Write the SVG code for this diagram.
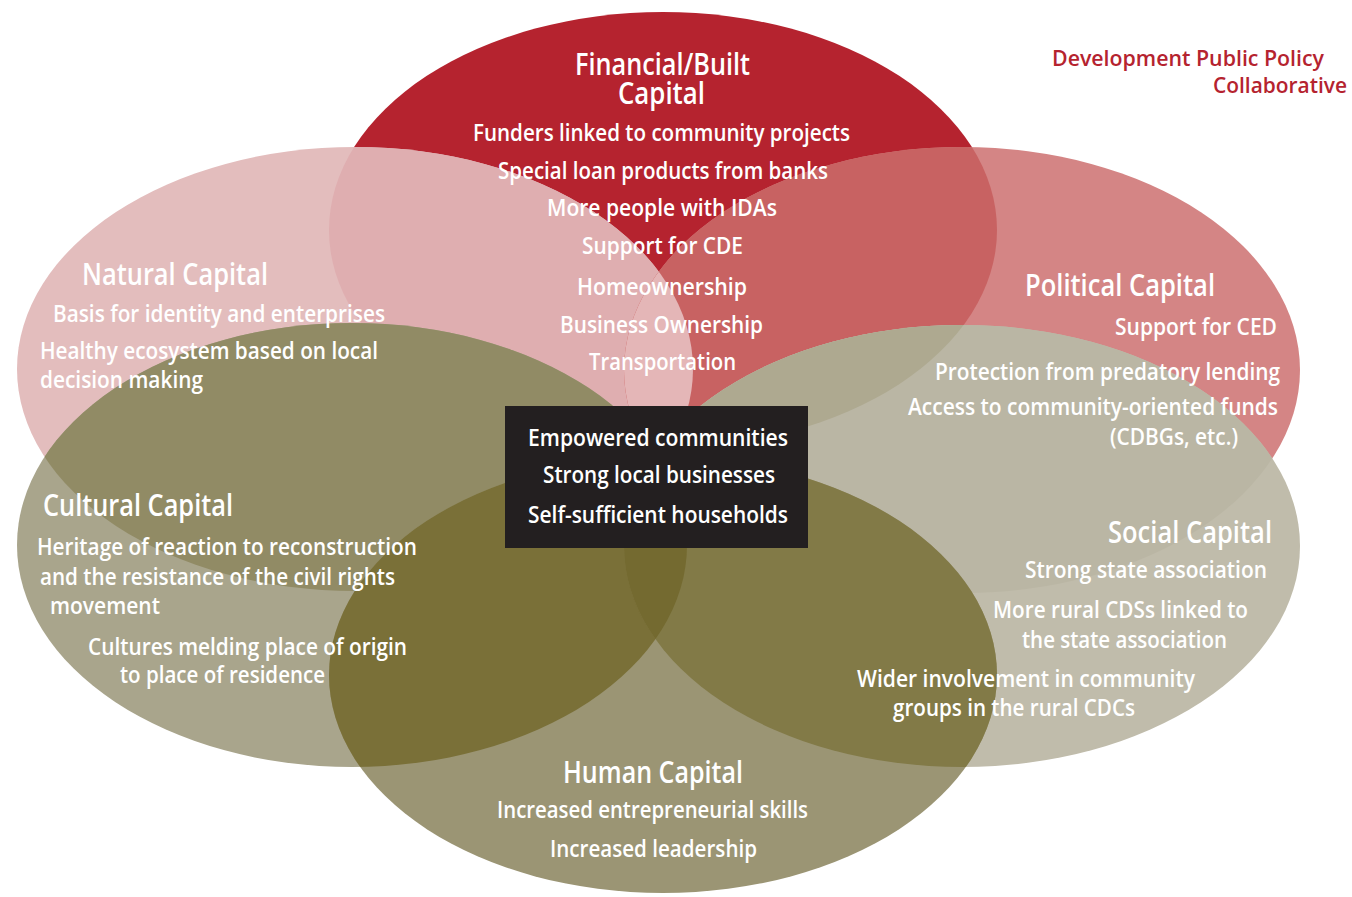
<svg xmlns="http://www.w3.org/2000/svg" xmlns:xlink="http://www.w3.org/1999/xlink" width="1352" height="897" viewBox="0 0 1352 897">
<style>
.t{font-family:"Open Sans","Liberation Sans",sans-serif;fill:#ffffff;font-weight:600;}
.h{font-size:31px;}
.i{font-size:23px;}
.r{fill:#b5232f;font-size:22px;font-family:"Open Sans","Liberation Sans",sans-serif;font-weight:600;}
</style>
<defs>
<ellipse id="eF" cx="663" cy="230" rx="334" ry="218"/>
<ellipse id="eN" cx="355" cy="369" rx="338" ry="222"/>
<ellipse id="eP" cx="962" cy="370" rx="338" ry="223"/>
<ellipse id="eC" cx="352" cy="545" rx="335" ry="222"/>
<ellipse id="eS" cx="962" cy="546" rx="338" ry="221"/>
<ellipse id="eH" cx="663" cy="675" rx="334" ry="218"/>
<clipPath id="cF"><use xlink:href="#eF"/></clipPath>
<clipPath id="cN"><use xlink:href="#eN"/></clipPath>
<clipPath id="cP"><use xlink:href="#eP"/></clipPath>
<clipPath id="cC"><use xlink:href="#eC"/></clipPath>
<clipPath id="cS"><use xlink:href="#eS"/></clipPath>
</defs>
<rect width="1352" height="897" fill="#ffffff"/>
<g id="connectors"></g>
<g id="shapes">
<g id="financial-shape"><use xlink:href="#eF" fill="#b5232f"/></g>
<g id="natural-shape">
<use xlink:href="#eN" fill="#e3bdbd"/>
<g clip-path="url(#cF)"><use xlink:href="#eN" fill="#dfaeb0"/></g>
</g>
<g id="political-shape">
<use xlink:href="#eP" fill="#d48585"/>
<g clip-path="url(#cF)"><use xlink:href="#eP" fill="#c86262"/></g>
<g clip-path="url(#cN)"><use xlink:href="#eP" fill="#e4b6b7"/></g>
</g>
<g id="cultural-shape">
<use xlink:href="#eC" fill="#a9a58c"/>
<g clip-path="url(#cN)"><use xlink:href="#eC" fill="#918b65"/></g>
</g>
<g id="social-shape">
<use xlink:href="#eS" fill="#c0bcab"/>
<g clip-path="url(#cP)"><use xlink:href="#eS" fill="#bab6a4"/></g>
<g clip-path="url(#cF)"><use xlink:href="#eS" fill="#aea990"/></g>
<g clip-path="url(#cC)"><use xlink:href="#eS" fill="#8a8462"/></g>
</g>
<g id="human-shape">
<use xlink:href="#eH" fill="#9b9574"/>
<g clip-path="url(#cC)"><use xlink:href="#eH" fill="#7a7038"/></g>
<g clip-path="url(#cS)"><use xlink:href="#eH" fill="#827a47"/></g>
<g clip-path="url(#cC)"><g clip-path="url(#cS)"><use xlink:href="#eH" fill="#746a30"/></g></g>
</g>
</g>
<g id="title">
<text class="r" x="1052" y="66" textLength="272" lengthAdjust="spacingAndGlyphs">Development Public Policy</text>
<text class="r" x="1213" y="93" textLength="134" lengthAdjust="spacingAndGlyphs">Collaborative</text>
</g>
<g id="financial">
<text class="t h" x="575" y="75" textLength="175" lengthAdjust="spacingAndGlyphs">Financial/Built</text>
<text class="t h" x="618" y="104" textLength="87" lengthAdjust="spacingAndGlyphs">Capital</text>
<text class="t i" x="473" y="141" textLength="377" lengthAdjust="spacingAndGlyphs">Funders linked to community projects</text>
<text class="t i" x="498" y="179" textLength="330" lengthAdjust="spacingAndGlyphs">Special loan products from banks</text>
<text class="t i" x="547" y="216" textLength="230" lengthAdjust="spacingAndGlyphs">More people with IDAs</text>
<text class="t i" x="582" y="254" textLength="161" lengthAdjust="spacingAndGlyphs">Support for CDE</text>
<text class="t i" x="577" y="295" textLength="170" lengthAdjust="spacingAndGlyphs">Homeownership</text>
<text class="t i" x="560" y="333" textLength="203" lengthAdjust="spacingAndGlyphs">Business Ownership</text>
<text class="t i" x="589" y="370" textLength="147" lengthAdjust="spacingAndGlyphs">Transportation</text>
</g>
<g id="natural">
<text class="t h" x="82" y="285" textLength="186" lengthAdjust="spacingAndGlyphs">Natural Capital</text>
<text class="t i" x="53" y="322" textLength="332" lengthAdjust="spacingAndGlyphs">Basis for identity and enterprises</text>
<text class="t i" x="40" y="359" textLength="338" lengthAdjust="spacingAndGlyphs">Healthy ecosystem based on local</text>
<text class="t i" x="40" y="388" textLength="163" lengthAdjust="spacingAndGlyphs">decision making</text>
</g>
<g id="political">
<text class="t h" x="1025" y="296" textLength="190" lengthAdjust="spacingAndGlyphs">Political Capital</text>
<text class="t i" x="1115" y="335" textLength="162" lengthAdjust="spacingAndGlyphs">Support for CED</text>
<text class="t i" x="935" y="380" textLength="345" lengthAdjust="spacingAndGlyphs">Protection from predatory lending</text>
<text class="t i" x="908" y="415" textLength="370" lengthAdjust="spacingAndGlyphs">Access to community-oriented funds</text>
<text class="t i" x="1110" y="445" textLength="128" lengthAdjust="spacingAndGlyphs">(CDBGs, etc.)</text>
</g>
<g id="outcomes">
<rect x="505" y="406" width="303" height="142" fill="#231f20"/>
<text class="t i" x="528" y="446" textLength="260" lengthAdjust="spacingAndGlyphs">Empowered communities</text>
<text class="t i" x="543" y="483" textLength="232" lengthAdjust="spacingAndGlyphs">Strong local businesses</text>
<text class="t i" x="528" y="523" textLength="260" lengthAdjust="spacingAndGlyphs">Self-sufficient households</text>
</g>
<g id="cultural">
<text class="t h" x="43" y="516" textLength="190" lengthAdjust="spacingAndGlyphs">Cultural Capital</text>
<text class="t i" x="37" y="555" textLength="380" lengthAdjust="spacingAndGlyphs">Heritage of reaction to reconstruction</text>
<text class="t i" x="40" y="585" textLength="355" lengthAdjust="spacingAndGlyphs">and the resistance of the civil rights</text>
<text class="t i" x="50" y="614" textLength="110" lengthAdjust="spacingAndGlyphs">movement</text>
<text class="t i" x="88" y="655" textLength="319" lengthAdjust="spacingAndGlyphs">Cultures melding place of origin</text>
<text class="t i" x="120" y="683" textLength="205" lengthAdjust="spacingAndGlyphs">to place of residence</text>
</g>
<g id="social">
<text class="t h" x="1108" y="543" textLength="164" lengthAdjust="spacingAndGlyphs">Social Capital</text>
<text class="t i" x="1025" y="578" textLength="242" lengthAdjust="spacingAndGlyphs">Strong state association</text>
<text class="t i" x="993" y="618" textLength="255" lengthAdjust="spacingAndGlyphs">More rural CDSs linked to</text>
<text class="t i" x="1022" y="648" textLength="205" lengthAdjust="spacingAndGlyphs">the state association</text>
<text class="t i" x="857" y="687" textLength="338" lengthAdjust="spacingAndGlyphs">Wider involvement in community</text>
<text class="t i" x="893" y="716" textLength="242" lengthAdjust="spacingAndGlyphs">groups in the rural CDCs</text>
</g>
<g id="human">
<text class="t h" x="563" y="783" textLength="180" lengthAdjust="spacingAndGlyphs">Human Capital</text>
<text class="t i" x="497" y="818" textLength="311" lengthAdjust="spacingAndGlyphs">Increased entrepreneurial skills</text>
<text class="t i" x="550" y="857" textLength="207" lengthAdjust="spacingAndGlyphs">Increased leadership</text>
</g>
</svg>
